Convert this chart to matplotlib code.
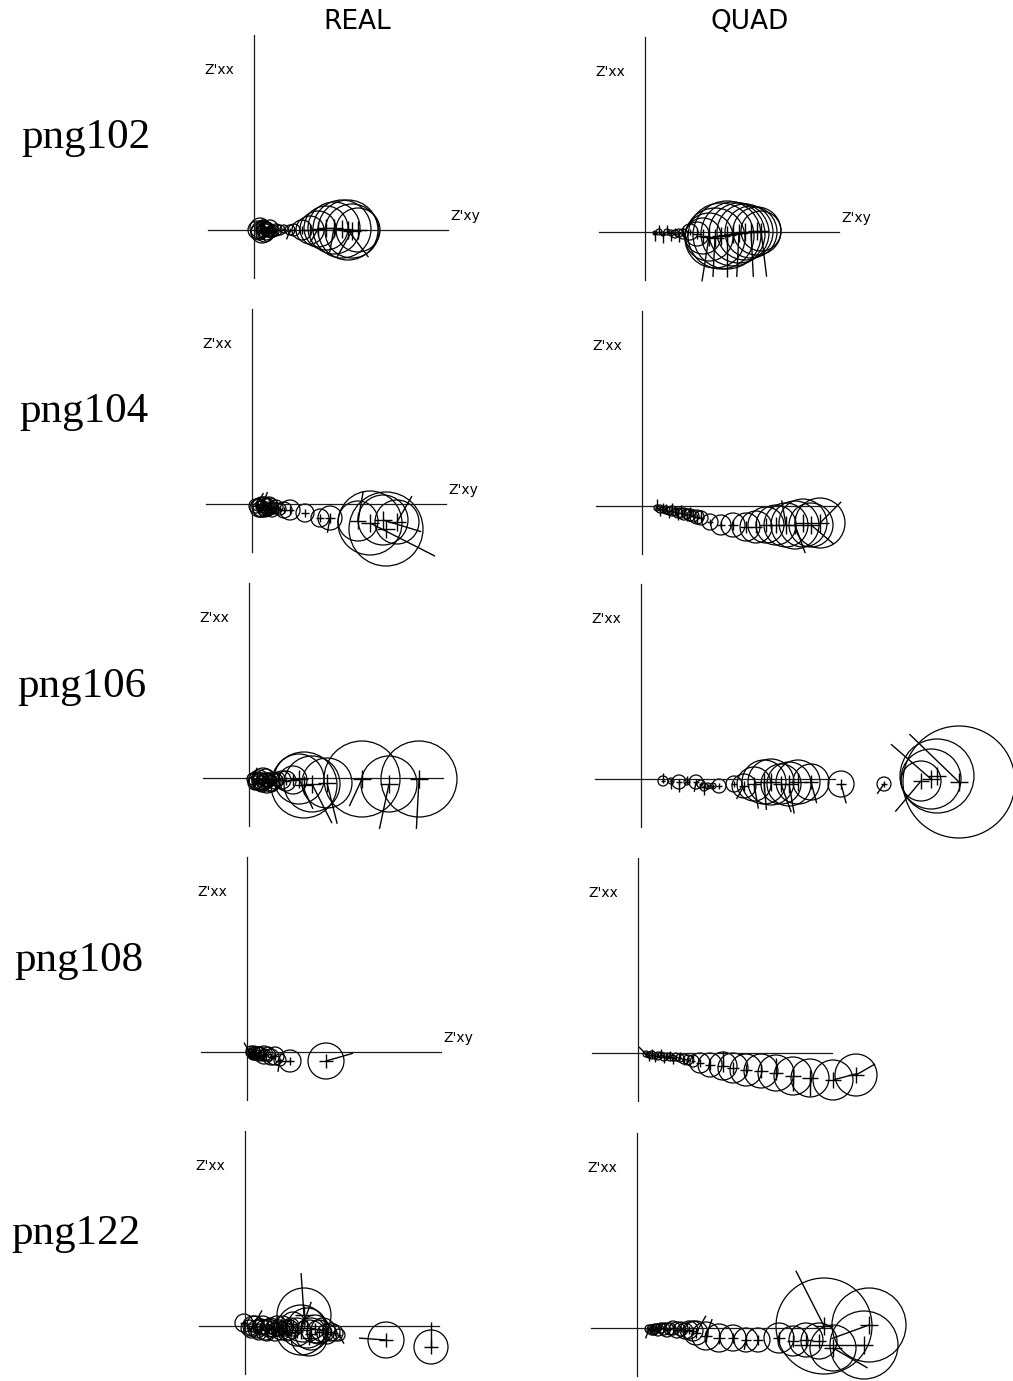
import numpy as np
import matplotlib
matplotlib.use("Agg")
import matplotlib.pyplot as plt
from matplotlib.patches import Circle
from matplotlib.collections import PatchCollection, LineCollection

# 每个面板: 圆心 (x, y), 半径 r, 方向线角度 a (度) 与长度 l
# png102 REAL
p102r_x = [3, 5, 6, 8, 9, 10, 11, 12, 13, 14, 16, 17, 19, 22, 26, 30, 36, 40, 48, 56, 64, 72, 80, 88, 94, 98, 104]
p102r_y = [0, -2, 2, -2, 3, 1, -3, -1, 2, 0, 2, -2, -1, 0, 0, 1, 0, 0, 0, 0, 1, 2, 2, 1, 0, -1, 0]
p102r_r = [9, 8, 10, 11, 7, 8, 9, 9, 6, 7, 8, 6, 6, 6, 5, 4, 5, 6, 10, 14, 18, 22, 26, 29, 30, 27, 22]
p102r_a = [60, 0, 0, -70, 0, 0, 0, 0, 0, 0, 0, 0, 0, 0, 0, 0, -110, 0, 0, 0, -120, 0, -100, 0, -53, -120, 0]
p102r_l = [12, 0, 0, 10, 0, 0, 0, 0, 0, 0, 0, 0, 0, 0, 0, 0, 10, 0, 0, 0, 15, 0, 25, 0, 34, 30, 0]

# png102 QUAD
p102q_x = [10, 14, 18, 22, 26, 30, 34, 38, 45, 52, 58, 64, 70, 76, 82, 88, 94, 100, 106, 112, 116]
p102q_y = [-1, 0, -2, 0, -1, -2, -1, -2, 0, -2, -4, -5, -6, -4, -3, -2, -1, 0, 0, 1, 1]
p102q_r = [2, 3, 2, 3, 3, 4, 4, 5, 8, 12, 18, 24, 30, 33, 34, 32, 30, 28, 26, 24, 20]
p102q_a = [-90, 90, -90, 90, -90, 90, -90, 90, 0, 0, 0, -99, -93, 0, -90, 0, -93, 0, -87, 0, -83]
p102q_l = [8, 7, 9, 7, 8, 6, 9, 7, 0, 0, 0, 45, 39, 0, 42, 0, 44, 0, 45, 0, 46]

# png104 REAL
p104r_x = [4, 6, 7, 9, 10, 12, 13, 14, 16, 17, 18, 20, 21, 24, 28, 32, 38, 53, 68, 78, 106, 118, 131, 134, 145]
p104r_y = [-2, -1, -4, -5, -3, -1, -6, -3, -5, -2, -2, -6, -4, -3, -5, -6, -6, -9, -14, -14, -17, -19, -16, -25, -18]
p104r_r = [7, 6, 9, 8, 10, 8, 7, 9, 7, 9, 8, 7, 6, 7, 6, 8, 10, 9, 9, 12, 20, 32, 25, 37, 22]
p104r_a = [60, 0, 0, 0, 70, 0, 0, 0, 0, 0, 0, 0, 0, 0, 0, 0, 0, 0, 0, -100, 80, -27, -17, 0, 60]
p104r_l = [15, 0, 0, 0, 16, 0, 0, 0, 0, 0, 0, 0, 0, 0, 0, 0, 0, 0, 0, 15, 30, 73, 40, 0, 30]

# png104 QUAD
p104q_x = [15, 18, 21, 24, 27, 30, 33, 36, 39, 42, 45, 48, 51, 55, 59,
           68, 79, 91, 104, 114, 124, 134, 144, 153, 161, 169, 178]
p104q_y = [-2, -3, -4, -4, -5, -5, -6, -7, -7, -8, -8, -9, -10, -11, -12,
           -16, -19, -19, -21, -21, -19, -19, -19, -19, -17, -19, -17]
p104q_r = [3, 4, 3, 4, 4, 5, 4, 5, 5, 6, 5, 6, 6, 7, 7,
           8, 10, 12, 14, 16, 18, 20, 22, 24, 24, 22, 25]
p104q_a = [90, -90, 90, 90, -90, 90, 90, -90, 90, 90, -90, 90, 90, -90, 90,
           0, 0, 0, 0, 0, 0, 0, 100, -70, 0, -40, 45]
p104q_l = [9, 7, 7, 6, 7, 8, 6, 7, 8, 6, 7, 8, 6, 7, 8,
           0, 0, 0, 0, 0, 0, 0, 25, 30, 0, 30, 30]

# png106 REAL
p106r_x = [4, 6, 7, 9, 10, 12, 13, 14, 16, 17, 18, 20, 22, 23, 26, 29, 33, 37, 44, 50, 55, 63, 78, 113, 140, 170]
p106r_y = [-1, -5, -3, 0, -2, -4, -6, -1, -3, 0, -5, -2, -6, -4, -3, -1, -2, -3, -2, -1, -7, -6, -5, -1, -6, -1]
p106r_r = [6, 7, 8, 6, 10, 9, 8, 11, 8, 9, 10, 7, 8, 9, 8, 7, 9, 10, 14, 25, 33, 28, 25, 38, 28, 38]
p106r_a = [70, 0, 0, 0, 0, 0, 0, 0, 0, 0, 0, 0, 0, 0, 0, 0, 0, 0, 0, -65, 0, -63, -76, -115, -102, -93]
p106r_l = [12, 0, 0, 0, 0, 0, 0, 0, 0, 0, 0, 0, 0, 0, 0, 0, 0, 0, 0, 33, 0, 44, 42, 30, 46, 50]

# png106 QUAD
p106q_x = [22, 30, 38, 46, 55, 60, 63, 67, 72, 78, 93, 103, 113, 123, 130, 140, 148, 157, 170, 200, 243,
           280, 290, 296, 318]
p106q_y = [-2, -2, -3, -3, -3, -5, -8, -7, -7, -7, -5, -7, -5, -3, -3, -5, -5, -3, -3, -5, -5,
           -2, 0, 3, -3]
p106q_r = [5, 3, 7, 3, 7, 4, 4, 3, 3, 7, 8, 12, 17, 22, 23, 20, 22, 22, 18, 13, 7,
           20, 30, 37, 56]
p106q_a = [90, -90, -90, 90, -100, 0, -90, 0, 0, 0, 0, -120, -80, -85, 0, -70, -80, 0, -75, -75, -125,
           -130, 139, 0, 136]
p106q_l = [8, 8, 10, 6, 10, 0, 8, 0, 0, 0, 0, 15, 25, 28, 0, 30, 30, 0, 22, 20, 12,
           40, 53, 0, 69]

# png108 REAL
p108r_x = [3, 4, 5, 6, 7, 8, 9, 11, 12, 13, 15, 17, 18, 21, 24, 28, 33, 43, 79]
p108r_y = [-1, 1, -2, -4, 0, -1, -3, -2, 0, -1, -4, -3, -3, -2, -5, -4, -8, -9, -9]
p108r_r = [4, 5, 5, 4, 6, 6, 5, 7, 5, 6, 5, 9, 6, 7, 8, 9, 6, 11, 18]
p108r_a = [120, 0, 0, 0, 0, 0, 0, 0, 0, 0, 0, 0, 0, 0, 0, 0, -100, 180, 16]
p108r_l = [12, 0, 0, 0, 0, 0, 0, 0, 0, 0, 0, 0, 0, 0, 0, 0, 12, 15, 28]

# png108 QUAD
p108q_x = [8, 11, 14, 17, 20, 23, 26, 29, 32, 35, 38, 42, 46, 50, 55,
           62, 72, 85, 95, 108, 123, 138, 155, 172, 195, 218]
p108q_y = [-1, -2, -2, -3, -3, -2, -4, -3, -4, -5, -4, -5, -6, -7, -8,
           -10, -12, -13, -15, -17, -18, -20, -23, -25, -27, -22]
p108q_r = [3, 3, 4, 3, 4, 3, 4, 3, 4, 3, 4, 4, 5, 5, 6,
           10, 12, 14, 15, 16, 17, 18, 19, 19, 20, 21]
p108q_a = [135, -90, 90, -90, 0, 90, -90, 0, 90, -90, 0, 90, -90, 0, 90,
           0, 0, 90, 0, 0, 0, 90, -90, -90, 15, 30]
p108q_l = [10, 6, 6, 6, 0, 6, 6, 0, 6, 6, 0, 6, 6, 0, 6,
           0, 0, 15, 0, 0, 0, 15, 15, 18, 25, 22]

# png122 REAL
p122r_x = [-1, 4, 6, 8, 10, 12, 14, 16, 18, 20, 22, 24, 26, 28, 30, 32, 34, 36, 38, 40, 42, 44, 46, 48,
           52, 56, 59, 62, 64, 66, 70, 74, 78, 82, 86, 90, 94, 141, 186]
p122r_y = [3, -2, -5, 0, 2, -3, -6, -1, 1, -4, -7, -2, 0, -3, -6, 0, -2, -5, 1, -2, -6, -4, 0, 2,
           -6, -4, 11, -2, -12, -8, -3, -6, -4, -8, -6, -7, -9, -14, -21]
p122r_r = [9, 8, 7, 10, 8, 9, 8, 8, 9, 10, 8, 9, 8, 8, 9, 10, 8, 9, 9, 8, 9, 10, 8, 12,
           14, 25, 27, 20, 18, 16, 14, 12, 12, 10, 9, 8, 6, 18, 17]
p122r_a = [0, 0, 0, 60, 0, 0, 0, 0, 0, 0, 0, 0, 0, 0, 0, 0, 0, 0, 0, 0, 0, 0, 0, 0,
           0, 70, 94, 0, 0, 0, 0, 0, 0, 0, 0, 0, -60, 176, 90]
p122r_l = [0, 0, 0, 18, 0, 0, 0, 0, 0, 0, 0, 0, 0, 0, 0, 0, 0, 0, 0, 0, 0, 0, 0, 0,
           0, 30, 42, 0, 0, 0, 0, 0, 0, 0, 0, 0, 10, 27, 25]

# png122 QUAD
p122q_x = [12, 14, 15, 17, 18, 20, 21, 24, 27, 30, 33, 36, 40, 44, 48, 52, 56,
           59, 69, 82, 96, 109, 121, 142, 156, 169, 182, 187, 196, 227, 232]
p122q_y = [-1, 0, -2, -3, -1, 0, -2, 0, -1, -2, -1, 0, -2, -1, -3, -2, -3,
           -5, -8, -10, -10, -12, -12, -10, -13, -12, -13, 2, -20, -17, 3]
p122q_r = [4, 3, 5, 4, 5, 4, 6, 5, 6, 7, 6, 7, 8, 7, 8, 9, 10,
           12, 14, 14, 13, 12, 12, 15, 15, 17, 18, 48, 23, 34, 37]
p122q_a = [-110, 0, 0, 0, 0, 0, 0, 0, 0, 0, 0, 0, 0, 0, 0, 0, 0,
           60, 70, 0, 0, -100, 0, 0, 0, 0, 0, 117, -30, 180, -160]
p122q_l = [10, 0, 0, 0, 0, 0, 0, 0, 0, 0, 0, 0, 0, 0, 0, 0, 0,
           20, 18, 0, 0, 10, 0, 0, 0, 0, 0, 62, 40, 70, 40]

row_names = ["png102", "png104", "png106", "png108", "png122"]
col_names = ["REAL", "QUAD"]
panel_data = [
    [(p102r_x, p102r_y, p102r_r, p102r_a, p102r_l), (p102q_x, p102q_y, p102q_r, p102q_a, p102q_l)],
    [(p104r_x, p104r_y, p104r_r, p104r_a, p104r_l), (p104q_x, p104q_y, p104q_r, p104q_a, p104q_l)],
    [(p106r_x, p106r_y, p106r_r, p106r_a, p106r_l), (p106q_x, p106q_y, p106q_r, p106q_a, p106q_l)],
    [(p108r_x, p108r_y, p108r_r, p108r_a, p108r_l), (p108q_x, p108q_y, p108q_r, p108q_a, p108q_l)],
    [(p122r_x, p122r_y, p122r_r, p122r_a, p122r_l), (p122q_x, p122q_y, p122q_r, p122q_a, p122q_l)],
]
# 哪些面板带 Z'xy 标注
show_xy = [[True, True], [True, False], [False, False], [True, False], [False, False]]

# 版面 (像素)
W, H = 1013, 1381
origins = [[(254, 230), (645, 232)],
           [(252, 504), (642, 506)],
           [(249, 778), (641, 779)],
           [(247, 1052), (638, 1053)],
           [(245, 1326), (637, 1328)]]
row_label_pos = [(86, 138), (84, 412), (82, 687), (79, 961), (76, 1234)]

fig = plt.figure(figsize=(W / 100, H / 100), dpi=100)
fig.patch.set_facecolor("white")

L, R, T, B = 80, 400, 210, 80
for i in range(5):
    for j in range(2):
        ox, oy = origins[i][j]
        rect = [(ox - L) / W, 1 - (oy + B) / H, (L + R) / W, (T + B) / H]
        ax = fig.add_axes(rect)
        ax.set_xlim(-L, R)
        ax.set_ylim(-B, T)
        ax.axis("off")
        ax.patch.set_alpha(0)

        # 坐标轴线
        ax.plot([-46, 194], [0, 0], color="#1a1a1a", lw=0.9, clip_on=False)
        ax.plot([0, 0], [-48, 195], color="#1a1a1a", lw=0.9, clip_on=False)
        ax.text(-35, 160, "Z'xx", ha="center", va="center", fontsize=10, family="DejaVu Sans")
        if show_xy[i][j]:
            ax.text(211, 14, "Z'xy", ha="center", va="center", fontsize=10, family="DejaVu Sans")

        x, y, r, a, l = [np.array(v, dtype=float) for v in panel_data[i][j]]
        circles = [Circle((cx, cy), cr) for cx, cy, cr in zip(x, y, r)]
        pc = PatchCollection(circles, facecolor="none", edgecolor="black", lw=0.9, clip_on=False)
        ax.add_collection(pc)

        # 十字
        c = np.clip(0.4 * r, 2, 9)
        segs = [[(cx - s, cy), (cx + s, cy)] for cx, cy, s in zip(x, y, c)]
        segs += [[(cx, cy - s), (cx, cy + s)] for cx, cy, s in zip(x, y, c)]
        # 方向线
        th = np.deg2rad(a)
        segs += [[(cx, cy), (cx + ll * np.cos(t), cy + ll * np.sin(t))]
                 for cx, cy, t, ll in zip(x, y, th, l) if ll > 0]
        ax.add_collection(LineCollection(segs, colors="black", lw=1.0, clip_on=False))

for name, (px, py) in zip(row_names, row_label_pos):
    fig.text(px / W, 1 - py / H, name, ha="center", va="center", fontsize=31, family="Liberation Serif")

fig.text(357 / W, 1 - 22 / H, col_names[0], ha="center", va="center", fontsize=19, family="DejaVu Sans")
fig.text(750 / W, 1 - 22 / H, col_names[1], ha="center", va="center", fontsize=19, family="DejaVu Sans")

fig.savefig("out.png", dpi=100, facecolor="white")
